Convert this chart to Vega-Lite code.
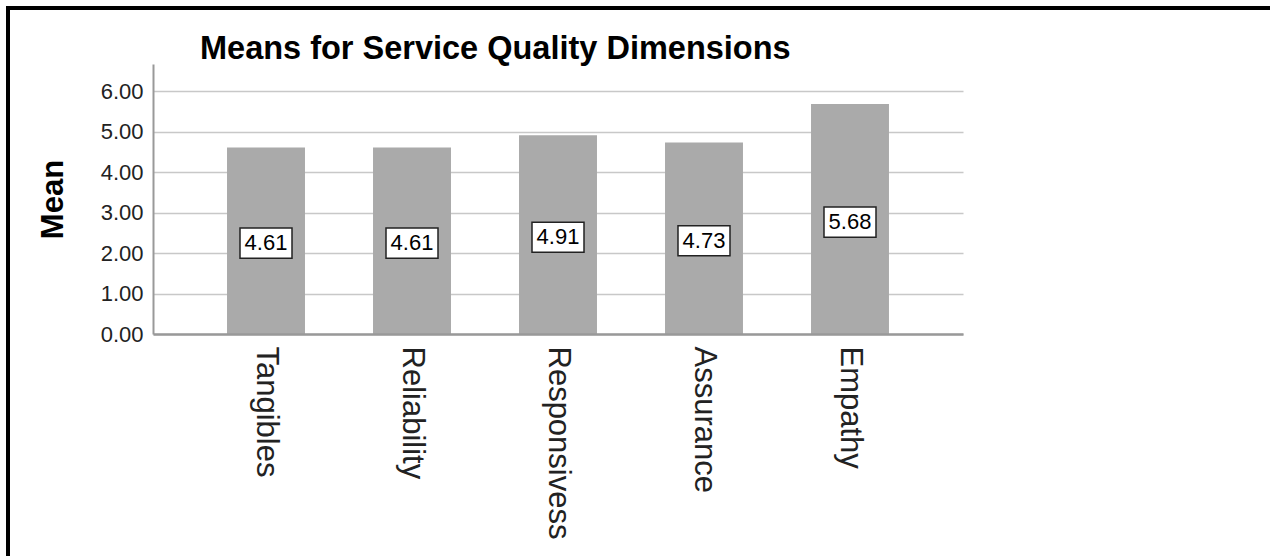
{
  "$schema": "https://vega.github.io/schema/vega-lite/v6.json",
  "width": 1302,
  "height": 588,
  "autosize": "none",
  "padding": {"left": 8, "top": 8, "right": -40, "bottom": -40},
  "background": "white",
  "title": {
    "text": "Means for Service Quality Dimensions",
    "anchor": "start",
    "frame": "group",
    "dx": 192,
    "offset": -57,
    "fontSize": 32.5,
    "fontWeight": "bold",
    "font": "Liberation Sans",
    "color": "black"
  },
  "data": {
    "values": [
      {"dim": "Tangibles", "mean": 4.61},
      {"dim": "Reliability", "mean": 4.61},
      {"dim": "Responsivess", "mean": 4.91},
      {"dim": "Assurance", "mean": 4.73},
      {"dim": "Empathy", "mean": 5.68}
    ]
  },
  "encoding": {
    "x": {
      "field": "dim",
      "type": "nominal",
      "sort": null,
      "scale": {"range": [145, 955], "paddingInner": 0.466, "paddingOuter": 0.507},
      "axis": {
        "title": null,
        "offset": -262,
        "labelAngle": 90,
        "labelAlign": "left",
        "labelBaseline": "middle",
        "labelFontSize": 31,
        "labelFont": "Liberation Sans",
        "labelColor": "#222222",
        "labelPadding": 12,
        "labelLimit": 0,
        "ticks": false,
        "grid": false,
        "domainColor": "#999999",
        "domainWidth": 2.5,
        "zindex": 1
      }
    }
  },
  "layer": [
    {
      "mark": {"type": "bar", "color": "#aaaaaa"},
      "encoding": {
        "y": {
          "field": "mean",
          "type": "quantitative",
          "scale": {"domain": [0, 6.67], "range": [326, 56], "nice": false},
          "axis": {
            "title": "Mean",
            "titleFontSize": 31,
            "titleFont": "Liberation Sans",
            "titleFontWeight": "bold",
            "titleColor": "black",
            "titlePadding": 31,
            "offset": -145,
            "values": [0, 1, 2, 3, 4, 5, 6],
            "format": ".2f",
            "labelFontSize": 22,
            "labelFont": "Liberation Sans",
            "labelColor": "#222222",
            "labelPadding": 10,
            "ticks": false,
            "domainColor": "#999999",
            "domainWidth": 2,
            "gridColor": "#c8c8c8",
            "gridWidth": 1.5
          }
        }
      }
    },
    {
      "mark": {
        "type": "point",
        "shape": "M-1,-0.58H1V0.58H-1Z",
        "filled": true,
        "fill": "white",
        "stroke": "#222222",
        "strokeWidth": 1.5,
        "size": 2704,
        "opacity": 1
      },
      "encoding": {
        "y": {
          "field": "mean",
          "type": "quantitative",
          "scale": {"domain": [0, 13.7], "range": [326, 56], "nice": false},
          "axis": null
        }
      }
    },
    {
      "mark": {"type": "text", "fontSize": 22, "font": "Liberation Sans", "color": "black", "baseline": "middle"},
      "encoding": {
        "y": {
          "field": "mean",
          "type": "quantitative",
          "scale": {"domain": [0, 13.7], "range": [326, 56], "nice": false},
          "axis": null
        },
        "text": {"field": "mean", "type": "quantitative", "format": ".2f"}
      }
    }
  ],
  "resolve": {"scale": {"y": "independent"}},
  "config": {
    "view": {"stroke": "black", "strokeWidth": 4},
    "font": "Liberation Sans"
  }
}
